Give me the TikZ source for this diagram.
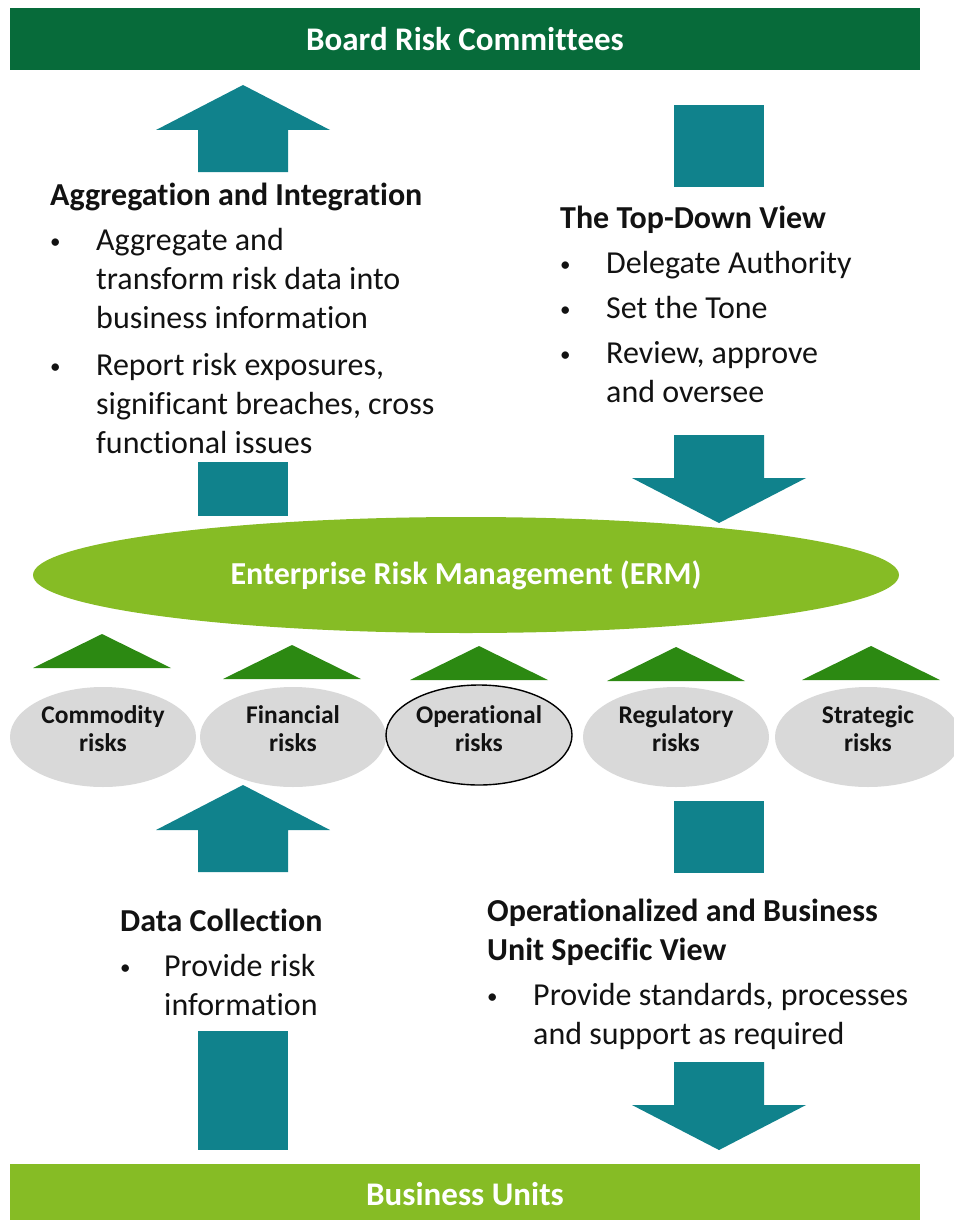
\documentclass[tikz,border=0pt]{standalone}
\usepackage{fontspec}
\setmainfont{Carlito}[Ligatures=NoCommon]
\usepackage{tikz}
\usetikzlibrary{shapes.geometric}
\usepackage{xcolor}
\definecolor{RiskBoard}{HTML}{076B3A}
\definecolor{RiskLime}{HTML}{86BC25}
\definecolor{RiskTeal}{HTML}{10828C}
\definecolor{RiskLeaf}{HTML}{2C8912}
\definecolor{RiskGrey}{HTML}{D9D9D9}
\definecolor{RiskInk}{HTML}{121212}
\newcommand{\viewbullet}{\raisebox{2pt}{\fontsize{21}{21}\selectfont•}}

\begin{document}
\begin{tikzpicture}[x=1pt,y=-1pt,
  band/.style={fill=#1,minimum width=910pt,minimum height=62pt,inner sep=0pt,
    text=white,font=\fontsize{33}{36}\selectfont\bfseries},
  riskbox/.style={ellipse,fill=RiskGrey,minimum width=186pt,minimum height=100pt,
    inner sep=0pt,text=RiskInk,font=\fontsize{25.5}{28}\selectfont\bfseries},
  viewtext/.style={anchor=base west,inner sep=0pt,text=RiskInk,
    font=\fontsize{32}{39}\selectfont}]
  \useasboundingbox (0,0) rectangle (953,1220);

  % top and bottom bands
  \node[band=RiskBoard] (board) at (465,39) {Board Risk Committees};
  \node[band=RiskLime,minimum height=60pt] (units) at (465,1194) {Business Units};

  % ERM in the middle
  \node[ellipse,fill=RiskLime,minimum width=866pt,minimum height=116pt,inner sep=0pt,
    text=white,font=\fontsize{32}{36}\selectfont\bfseries] (erm) at (466,575)
    {Enterprise Risk Management (ERM)};

  % block arrows: head pointing up, then head pointing down
  \foreach \cx/\yt/\yb in {243/85/172, 243/785/872}{
    \fill[RiskTeal] (\cx,\yt) -- (\cx+87,\yt+45) -- (\cx+45,\yt+45) -- (\cx+45,\yb)
      -- (\cx-45,\yb) -- (\cx-45,\yt+45) -- (\cx-87,\yt+45) -- cycle;
  }
  \foreach \cx/\yt/\yb in {719/435/523, 719/1062/1150}{
    \fill[RiskTeal] (\cx,\yb) -- (\cx+87,\yb-45) -- (\cx+45,\yb-45) -- (\cx+45,\yt)
      -- (\cx-45,\yt) -- (\cx-45,\yb-45) -- (\cx-87,\yb-45) -- cycle;
  }
  % tails of the arrows
  \foreach \cx/\yt/\yb in {243/462/516, 719/105/187, 243/1031/1150, 719/801/873}
    \fill[RiskTeal] (\cx-45,\yt) rectangle (\cx+45,\yb);

  % risk categories
  \foreach \cx/\yb in {102/668, 292/679, 479/680, 676/681, 871/680}
    \fill[RiskLeaf] (\cx-69,\yb) -- (\cx,\yb-34) -- (\cx+69,\yb) -- cycle;
  \foreach \cx/\name/\lbl in {103/commodity/Commodity, 293/financial/Financial,
      676/regulatory/Regulatory, 868/strategic/Strategic}
    \node[riskbox] (\name) at (\cx,737)
      {\raisebox{5pt}[\height][\depth]{\begin{tabular}{@{}c@{}}\lbl\\risks\end{tabular}}};
  \node[riskbox,draw=black,line width=1.4pt] (operational) at (479,735)
    {\raisebox{3pt}[\height][\depth]{\begin{tabular}{@{}c@{}}Operational\\risks\end{tabular}}};

  % the four views
  \node[viewtext] (aggview) at (50,205) {\begin{tabular}[t]{@{}p{46pt}@{}l@{}}
    \multicolumn{2}{@{}l@{}}{\bfseries Aggregation and Integration}\\[6pt]
    \viewbullet & Aggregate and\\
      & transform risk data into\\
      & business information\\[8pt]
    \viewbullet & Report risk exposures,\\
      & significant breaches, cross\\
      & functional issues
  \end{tabular}};
  \node[viewtext] (topdown) at (560,228) {\begin{tabular}[t]{@{}p{46pt}@{}l@{}}
    \multicolumn{2}{@{}l@{}}{\bfseries The Top-Down View}\\[6pt]
    \viewbullet & Delegate Authority\\[6pt]
    \viewbullet & Set the Tone\\[6pt]
    \viewbullet & Review, approve\\
      & and oversee
  \end{tabular}};
  \node[viewtext] (datacoll) at (120,931) {\begin{tabular}[t]{@{}p{44pt}@{}l@{}}
    \multicolumn{2}{@{}l@{}}{\bfseries Data Collection}\\[6pt]
    \viewbullet & Provide risk\\
      & information
  \end{tabular}};
  \node[viewtext] (unitview) at (487,921) {\begin{tabular}[t]{@{}p{46pt}@{}l@{}}
    \multicolumn{2}{@{}l@{}}{\bfseries Operationalized and Business}\\
    \multicolumn{2}{@{}l@{}}{\bfseries Unit Specific View}\\[6pt]
    \viewbullet & Provide standards, processes\\
      & and support as required
  \end{tabular}};
\end{tikzpicture}
\end{document}
